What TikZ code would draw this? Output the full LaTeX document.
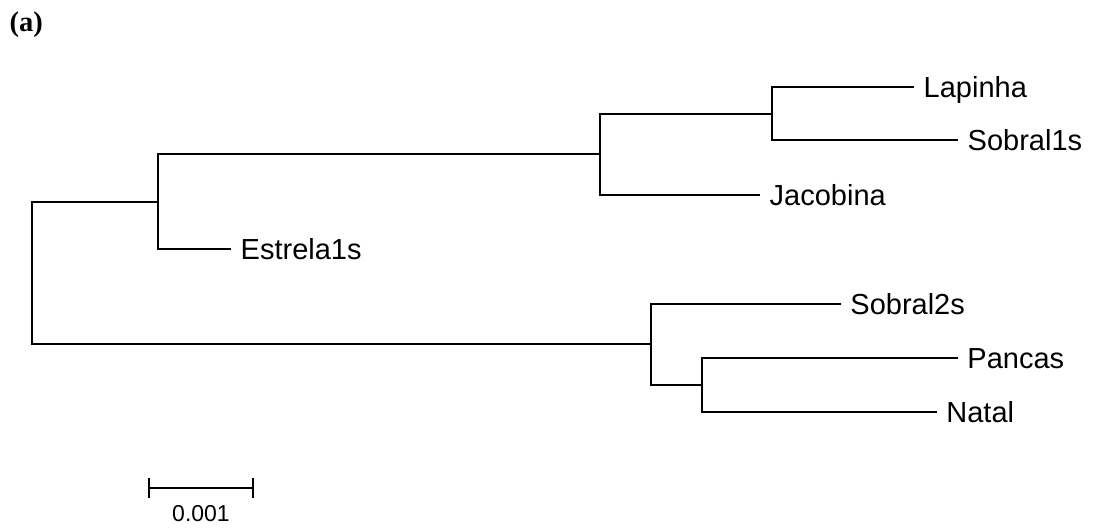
\documentclass[tikz,border=0pt]{standalone}
\usepackage{fontspec}
\setmainfont{Liberation Sans}
\newfontfamily\panelfont{Liberation Serif}
\usetikzlibrary{calc}
\tikzset{
  branch/.style={line width=2pt, black},
  leaf/.style={anchor=west, inner xsep=9.5pt, inner ysep=0pt,
    text height=21pt, text depth=0pt, font=\fontsize{29}{29}\selectfont},
}
\begin{document}
\begin{tikzpicture}[x=1pt, y=-1pt]
\useasboundingbox (0,0) rectangle (1094,529);

% panel label
\node[anchor=base west, inner sep=0pt, font=\panelfont\bfseries\fontsize{28.5}{28.5}\selectfont] (panel) at (9.5,31.5) {(a)};

% internal nodes of the tree
\coordinate (root) at (32,273);
\coordinate (nA) at (157.5,202);
\coordinate (nB) at (600,154.5);
\coordinate (nC) at (772,114);
\coordinate (nD) at (651,344);
\coordinate (nE) at (701.7,385);

% leaves
\node[leaf] (lap) at (914,87) {Lapinha};
\node[leaf] (sob1) at (958,140.5) {Sobral1s};
\node[leaf] (jac) at (760,195) {Jacobina};
\node[leaf] (est) at (231,249) {Estrela1s};
\node[leaf] (sob2) at (840.7,303.7) {Sobral2s};
\node[leaf] (pan) at (957.7,358) {Pancas};
\node[leaf] (nat) at (936.7,412) {Natal};

% branches
\draw[branch] (root) |- (nA);
\draw[branch] (root) |- (nD);
\draw[branch] (nA) |- (nB);
\draw[branch] (nA) |- (est.west);
\draw[branch] (nB) |- (nC);
\draw[branch] (nB) |- (jac.west);
\draw[branch] (nC) |- (lap.west);
\draw[branch] (nC) |- (sob1.west);
\draw[branch] (nD) |- (sob2.west);
\draw[branch] (nD) |- (nE);
\draw[branch] (nE) |- (pan.west);
\draw[branch] (nE) |- (nat.west);

% scale bar
\coordinate (sbL) at (148.7,488.3);
\coordinate (sbR) at (253.3,488.3);
\draw[branch] (sbL) -- (sbR);
\draw[branch] ($(sbL)+(0,-10)$) -- ($(sbL)+(0,10)$);
\draw[branch] ($(sbR)+(0,-10)$) -- ($(sbR)+(0,10)$);
\node[anchor=base, inner sep=0pt, font=\fontsize{23}{23}\selectfont] (sblabel) at ($(sbL)!0.5!(sbR)+(0,33.4)$) {0.001};
\end{tikzpicture}
\end{document}
